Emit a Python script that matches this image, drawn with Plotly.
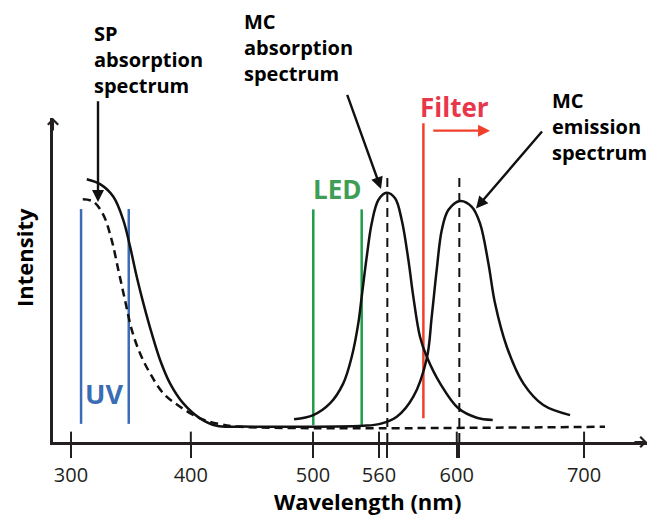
import plotly.graph_objects as go

# Wavelength axis (schematic spacing): tick positions and labels
tick_pos = [300, 399, 500, 554.5, 618.8, 724]
tick_text = ["300", "400", "500", "560", "600", "700"]

# SP absorption spectrum (solid)
sp_x = [313.0, 324.0, 335.0, 343.2, 348.8, 354.3, 359.8, 366.7, 373.6,
        381.8, 392.8, 406.6, 420.4, 439.7]
sp_y = [0.811, 0.796, 0.757, 0.685, 0.603, 0.510, 0.428, 0.335, 0.253,
        0.181, 0.119, 0.073, 0.050, 0.048]

# SP absorption spectrum (dashed), running on as the dashed baseline
spd_x = [309.7, 318.4, 326.7, 333.6, 339.1, 344.6, 350.2, 357.0, 365.3,
         376.3, 390.1, 406.6, 423.1, 439.7, 741.3]
spd_y = [0.749, 0.742, 0.701, 0.623, 0.531, 0.438, 0.346, 0.274, 0.212,
         0.150, 0.109, 0.073, 0.055, 0.047, 0.047]

# MC absorption spectrum
mca_x = [484.3, 500.2, 514.0, 525.0, 532.0, 537.4, 540.2, 544.4, 548.5,
         554.0, 560.9, 567.8, 573.3, 578.8, 582.9, 588.4, 594.0, 605.0,
         620.1, 635.3, 648.5]
mca_y = [0.070, 0.083, 0.119, 0.181, 0.263, 0.366, 0.448, 0.572, 0.675,
         0.747, 0.769, 0.752, 0.685, 0.562, 0.448, 0.325, 0.263, 0.181,
         0.104, 0.075, 0.068]

# MC emission spectrum (continues from the solid SP baseline)
mce_x = [439.7, 472.7, 541.6, 555.4, 569.2, 582.9, 594.0, 598.1, 602.2,
         606.4, 611.8, 621.5, 631.2, 638.0, 644.9, 650.4, 660.1, 673.8,
         690.3, 712.4]
mce_y = [0.048, 0.047, 0.050, 0.056, 0.078, 0.140, 0.258, 0.387, 0.531,
         0.654, 0.716, 0.744, 0.726, 0.675, 0.552, 0.428, 0.294, 0.181,
         0.114, 0.083]

# Light sources / filter edges
uv_lines = [308.3, 347.7]
uv_span = [0.056, 0.719]
led_lines = [500.2, 540.2]
led_span = [0.052, 0.718]
filter_edge = 591.2
filter_span = [0.073, 0.984]
filter_arrow = [598.1, 646.3]
filter_arrow_y = 0.961

# Peak markers (dashed verticals)
peak_lines = [561.4, 620.9]
peak_span = [0.0, 0.830]

BLACK = "#111111"
AXIS = "#231f20"
BLUE = "#3a6db5"
GREEN_LINE = "#1e9c4a"
GREEN_TEXT = "#3f9d55"
RED_LINE = "#f0402c"
RED_TEXT = "#e8374b"
FONT = "Open Sans"

fig = go.Figure()


def curve(x, y, color, width, dash=None, shape="spline"):
    fig.add_trace(go.Scatter(
        x=x, y=y, mode="lines",
        line=dict(color=color, width=width, dash=dash, shape=shape),
        hoverinfo="skip", showlegend=False))


# band / edge lines
for xv in uv_lines:
    curve([xv, xv], uv_span, BLUE, 2.5, shape="linear")
for xv in led_lines:
    curve([xv, xv], led_span, GREEN_LINE, 2.5, shape="linear")
curve([filter_edge, filter_edge], filter_span, RED_LINE, 2.5, shape="linear")
for xv in peak_lines:
    curve([xv, xv], peak_span, BLACK, 2, dash="9px,6px", shape="linear")

# spectra
curve(spd_x, spd_y, BLACK, 2.5, dash="8px,5px")
curve(sp_x, sp_y, BLACK, 2.5)
curve(mca_x, mca_y, BLACK, 2.5)
curve(mce_x, mce_y, BLACK, 2.5)

# upper half of the axis ticks (the lower half comes from the axis itself)
for tv in tick_pos:
    fig.add_shape(type="line", xref="x", yref="y", x0=tv, x1=tv, y0=0, y1=0.032,
                  line=dict(color=AXIS, width=2))

# plot box in pixels: x 53..647, y 118..442
L, R, T, B = 53, 647, 118, 442


def px(p):
    return (p - L) / (R - L)


def py(p):
    return (B - p) / (B - T)


annotations = []


def text_block(lines, x_left, mid_baseline, size, color="#000000"):
    annotations.append(dict(
        xref="paper", yref="paper", x=px(x_left), y=py(mid_baseline - 0.35 * size),
        xanchor="left", yanchor="middle", align="left", showarrow=False,
        text="<br>".join(f"<b>{s}</b>" for s in lines),
        font=dict(family=FONT, size=size, color=color)))


text_block(["SP", "absorption", "spectrum"], 92, 66, 20)
text_block(["MC", "absorption", "spectrum"], 242, 55, 20)
text_block(["MC", "emission", "spectrum"], 550, 133, 20)


def centered(s, xc, yc, size, color, angle=0):
    annotations.append(dict(
        xref="paper", yref="paper", x=px(xc), y=py(yc),
        xanchor="center", yanchor="middle", showarrow=False, textangle=angle,
        text=f"<b>{s}</b>", font=dict(family=FONT, size=size, color=color)))


centered("UV", 104, 393, 27, BLUE)
centered("LED", 337, 189, 26, GREEN_TEXT)
centered("Filter", 454, 107, 26, RED_TEXT)
centered("Intensity", 24, 258, 22, "#000000", angle=-90)
centered("Wavelength (nm)", 367, 501, 22, "#000000")


def pointer(x_tip, y_tip, x_tail, y_tail, color=BLACK):
    annotations.append(dict(
        xref="x", yref="y", axref="x", ayref="y",
        x=x_tip, y=y_tip, ax=x_tail, ay=y_tail, text="",
        showarrow=True, arrowhead=2, arrowsize=1.0, arrowwidth=2.4,
        arrowcolor=color, standoff=0, startstandoff=0))


pointer(322.3, 0.741, 322.3, 1.056)     # SP absorption
pointer(556.2, 0.781, 527.8, 1.076)     # MC absorption
pointer(634.7, 0.721, 690.3, 0.963)     # MC emission
pointer(filter_arrow[1], filter_arrow_y, filter_arrow[0], filter_arrow_y, RED_LINE)

# axis arrowheads
annotations.append(dict(xref="paper", yref="paper", x=1, y=0, ax=-14, ay=0,
                        text="", showarrow=True, arrowhead=4, arrowsize=1,
                        arrowwidth=2, arrowcolor=AXIS, standoff=0))
annotations.append(dict(xref="paper", yref="paper", x=0, y=1, ax=0, ay=14,
                        text="", showarrow=True, arrowhead=4, arrowsize=1,
                        arrowwidth=2, arrowcolor=AXIS, standoff=0))

# dashed peak markers cross the axis like ticks
all_ticks = tick_pos + peak_lines
all_text = tick_text + ["", ""]

fig.update_layout(
    width=659, height=517, autosize=False,
    margin=dict(l=L, r=659 - R, t=T, b=517 - B),
    paper_bgcolor="white", plot_bgcolor="white",
    showlegend=False,
    annotations=annotations,
    xaxis=dict(range=[285.1, 776.0], showgrid=False, zeroline=False,
               showline=True, linecolor=AXIS, linewidth=2.5,
               tickmode="array", tickvals=all_ticks, ticktext=all_text,
               ticks="outside", ticklen=13, tickwidth=2, tickcolor=AXIS,
               ticklabelstandoff=0,
               tickfont=dict(family=FONT, size=20, color=AXIS)),
    yaxis=dict(range=[0, 1], showgrid=False, zeroline=False,
               showline=True, linecolor=AXIS, linewidth=2.5,
               showticklabels=False, ticks=""),
)

fig.write_html("out.html")
